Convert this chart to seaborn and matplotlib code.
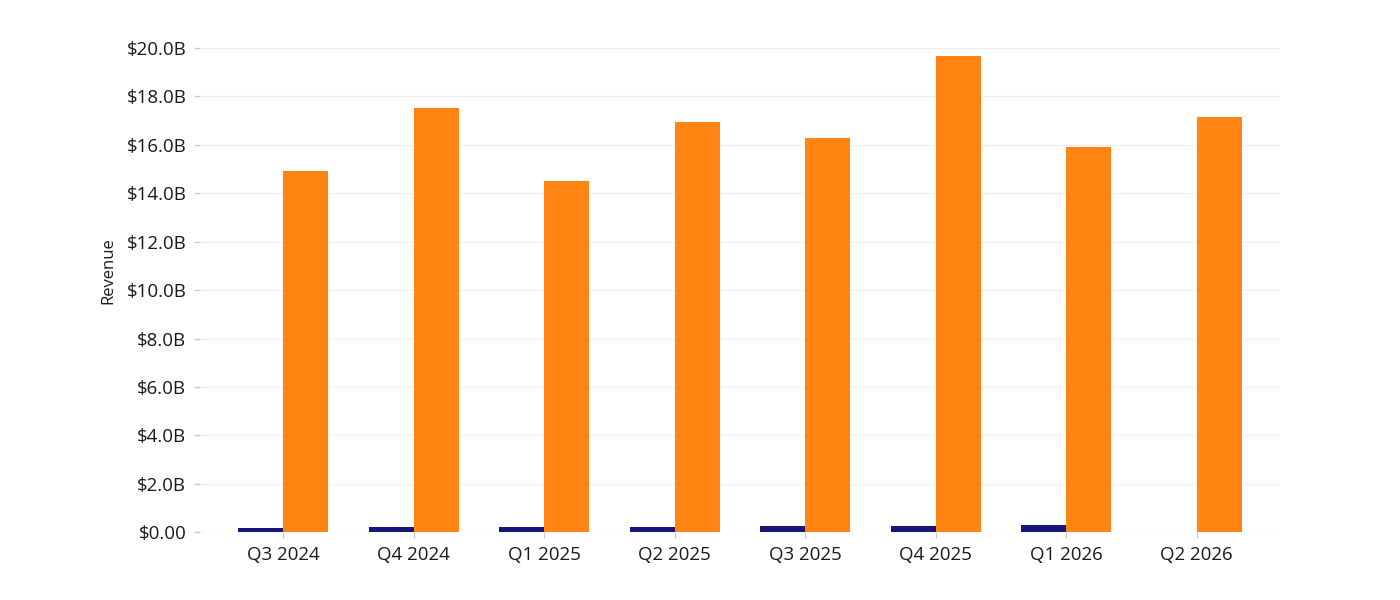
import numpy as np
import pandas as pd
import matplotlib
matplotlib.use("Agg")
import matplotlib.pyplot as plt
from matplotlib.ticker import FuncFormatter
import seaborn as sns

quarters = ["Q3 2024", "Q4 2024", "Q1 2025", "Q2 2025", "Q3 2025", "Q4 2025", "Q1 2026", "Q2 2026"]
small_rev = [0.17, 0.20, 0.20, 0.20, 0.25, 0.26, 0.31, np.nan]   # $B
main_rev = [14.92, 17.52, 14.50, 16.94, 16.28, 19.67, 15.91, 17.15]  # $B
series_names = ["Series A", "Series B"]
colors = ["#15157a", "#ff8412"]

df = pd.DataFrame({
    "quarter": quarters * 2,
    "series": [series_names[0]] * len(quarters) + [series_names[1]] * len(quarters),
    "revenue": small_rev + main_rev,
})

sns.set_theme(style="white")
plt.rcParams["font.family"] = ["Open Sans", "DejaVu Sans"]

fig = plt.figure(figsize=(14, 6), dpi=100)
ax = fig.add_axes([0.143, 0.113, 0.771, 0.807])

sns.barplot(data=df, x="quarter", y="revenue", hue="series", palette=colors,
            width=0.69, gap=0, saturation=1, legend=False, linewidth=0, ax=ax)

ax.set_ylim(0, 20)
ax.set_xlim(-0.635, 7.635)
ax.set_yticks(np.arange(0, 21, 2))


def fmt(v, pos):
    if v == 0:
        return "$0.00"
    return f"${v:.1f}B"


ax.yaxis.set_major_formatter(FuncFormatter(fmt))
ax.grid(axis="y", color="#f0f0f3", linewidth=1)
ax.set_axisbelow(True)
sns.despine(ax=ax, left=True, bottom=True)

ax.tick_params(axis="y", which="major", length=4, width=1, color="#cccccc",
               labelsize=13.5, labelcolor="#1a1a1a", pad=6, left=True)
ax.tick_params(axis="x", which="major", length=4, width=1, color="#cccccc",
               labelsize=13.5, labelcolor="#1a1a1a", pad=6, bottom=True)
ax.set_xlabel("")
ax.set_ylabel("Revenue", fontsize=12, color="#1a1a1a")
ax.yaxis.set_label_coords(-0.078, 0.54)

fig.savefig("out.png", dpi=100, facecolor="white")
